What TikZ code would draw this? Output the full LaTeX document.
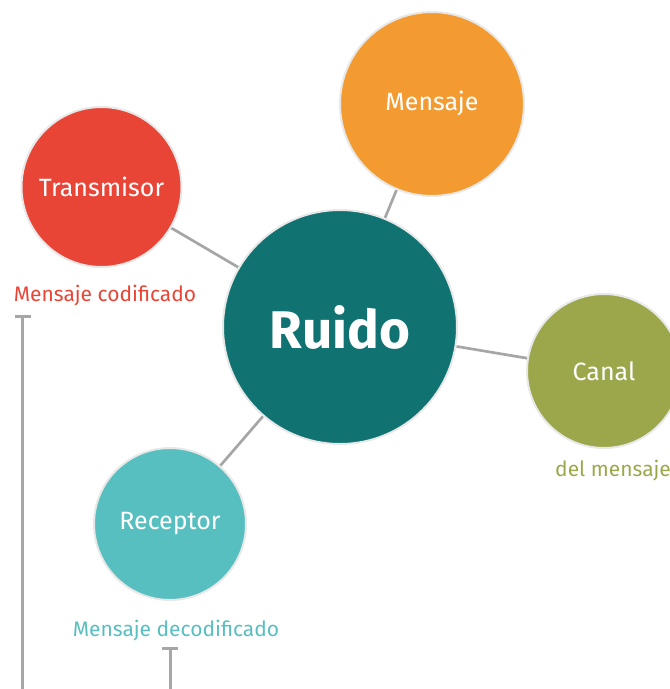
\documentclass[tikz,border=0pt]{standalone}
\usepackage{fontspec}
\setmainfont{Fira Sans}
\usetikzlibrary{backgrounds}
\definecolor{cRuido}{HTML}{117272}
\definecolor{cMens}{HTML}{F39B30}
\definecolor{cTrans}{HTML}{E84537}
\definecolor{cCanal}{HTML}{9CA74B}
\definecolor{cRec}{HTML}{58BFC0}
\definecolor{cLine}{HTML}{A6A6A6}
\definecolor{cBord}{HTML}{E8E8E8}
\tikzset{
  bubble/.style={circle, draw=cBord, line width=2pt, inner sep=0pt, text=white, font=\fontsize{25}{27}\selectfont},
  link/.style={draw=cLine, line width=2.7pt},
  caption/.style={inner sep=0pt, font=\fontsize{21}{23}\selectfont},
  bracket/.style={draw=cLine, line width=3pt}
}
\begin{document}
\begin{tikzpicture}[x=1pt,y=-1pt]
\useasboundingbox (0,0) rectangle (670,689);
\node[bubble, fill=cRuido, minimum size=234pt, font=\fontsize{53}{56}\selectfont\bfseries] (ruido) at (340,327) {Ruido};
\node[bubble, fill=cMens, minimum size=184pt] (mensaje) at (432,104) {\raisebox{6pt}{Mensaje}};
\node[bubble, fill=cTrans, minimum size=160pt] (trans) at (101.5,187) {Transmisor};
\node[bubble, fill=cCanal, minimum size=154pt] (canal) at (604,371) {Canal};
\node[bubble, fill=cRec, minimum size=152pt] (rec) at (170,524) {\raisebox{-3pt}{Receptor}};
\begin{scope}[on background layer]
\draw[link] (ruido) -- (mensaje);
\draw[link] (ruido) -- (trans);
\draw[link] (ruido) -- (canal);
\draw[link] (ruido) -- (rec);
\end{scope}
\node[caption, text=cTrans] (capT) at (105,295.5) {Mensaje codificado};
\node[caption, text=cCanal] (capC) at (613,471) {del mensaje};
\node[caption, text=cRec] (capR) at (176,631) {Mensaje decodificado};
\coordinate (b1top) at (22,316);
\coordinate (b1bot) at (22,689);
\coordinate (b1l) at (14.5,316);
\coordinate (b1r) at (30.5,316);
\coordinate (b2top) at (170,648);
\coordinate (b2bot) at (170,689);
\coordinate (b2l) at (162,648);
\coordinate (b2r) at (178,648);
\draw[bracket] (b1top) -- (b1bot);
\draw[bracket] (b1l) -- (b1r);
\draw[bracket] (b2top) -- (b2bot);
\draw[bracket] (b2l) -- (b2r);
\end{tikzpicture}
\end{document}
